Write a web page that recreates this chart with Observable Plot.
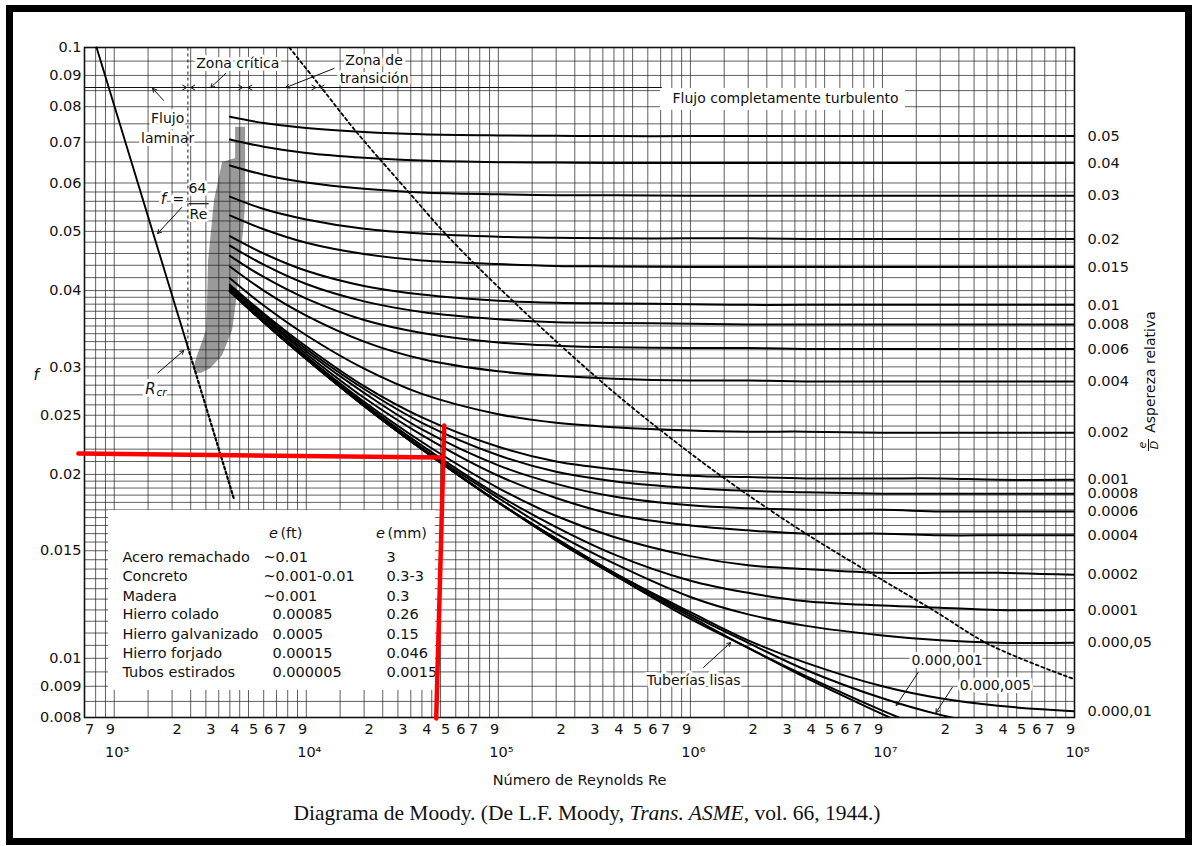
<!DOCTYPE html>
<html><head><meta charset="utf-8">
<script src="https://cdn.jsdelivr.net/npm/d3@7"></script>
<script src="https://cdn.jsdelivr.net/npm/@observablehq/plot@0.6"></script>
<style>
html,body{margin:0;padding:0;background:#fff;}
#wrap{position:relative;width:1197px;height:846px;overflow:hidden;background:#fff;}
#chart{position:absolute;left:0;top:0;}
#over{position:absolute;left:0;top:0;pointer-events:none;}
#caption{position:absolute;left:0;top:801px;width:1174px;text-align:center;font:21.5px "Liberation Serif","Times New Roman",serif;color:#111;white-space:nowrap;}
#frame{position:absolute;left:6px;top:5px;width:1186px;height:840px;border:7px solid #000;box-sizing:border-box;}
</style></head>
<body>
<div id="wrap">
  <div id="chart"></div>
  <svg id="over" width="1197" height="846" font-family="'DejaVu Sans', sans-serif" fill="#111">
    <g transform="translate(1150,372) rotate(-90)"><text text-anchor="middle" y="5" font-size="14">Aspereza relativa</text></g>
    <g transform="translate(1148,445) rotate(-90)" font-size="11" font-style="italic">
      <text text-anchor="middle" y="-2">e</text>
      <line x1="-6" x2="6" y1="0.5" y2="0.5" stroke="#111" stroke-width="1"/>
      <text text-anchor="middle" y="10">D</text>
    </g>
  </svg>
  <div id="caption">Diagrama de Moody. (De L.F. Moody, <i>Trans. ASME</i>, vol. 66, 1944.)</div>
  <div id="frame"></div>
</div>
<script>
// ---------- data ----------
const reSamples = [4000, 6000, 1e4, 2e4, 4e4, 1e5, 2e5, 4e5, 1e6, 2e6, 4e6, 1e7, 2e7, 4e7, 1e8];
const roughnessLabels = ["0.05","0.04","0.03","0.02","0.015","0.01","0.008","0.006","0.004","0.002","0.001","0.0008","0.0006","0.0004","0.0002","0.0001","0.000,05","0.000,01",null,null,null];

const f_05     = [0.0770,0.0752,0.0738,0.0727,0.0721,0.0718,0.0717,0.0716,0.0716,0.0716,0.0716,0.0716,0.0716,0.0716,0.0716];
const f_04     = [0.0707,0.0688,0.0672,0.0660,0.0653,0.0649,0.0648,0.0647,0.0647,0.0647,0.0647,0.0647,0.0647,0.0647,0.0647];
const f_03     = [0.0641,0.0619,0.0601,0.0587,0.0579,0.0575,0.0573,0.0573,0.0572,0.0572,0.0572,0.0572,0.0572,0.0572,0.0572];
const f_02     = [0.0570,0.0544,0.0523,0.0505,0.0496,0.0490,0.0488,0.0487,0.0487,0.0487,0.0486,0.0486,0.0486,0.0486,0.0486];
const f_015    = [0.0531,0.0504,0.0479,0.0459,0.0448,0.0442,0.0439,0.0438,0.0437,0.0437,0.0437,0.0437,0.0437,0.0437,0.0437];
const f_01     = [0.0491,0.0460,0.0431,0.0407,0.0394,0.0385,0.0382,0.0381,0.0380,0.0379,0.0379,0.0379,0.0379,0.0379,0.0379];
const f_008    = [0.0474,0.0441,0.0410,0.0384,0.0369,0.0359,0.0355,0.0354,0.0353,0.0352,0.0352,0.0352,0.0352,0.0352,0.0352];
const f_006    = [0.0456,0.0421,0.0388,0.0358,0.0341,0.0329,0.0325,0.0323,0.0322,0.0322,0.0321,0.0321,0.0321,0.0321,0.0321];
const f_004    = [0.0438,0.0400,0.0364,0.0330,0.0309,0.0295,0.0290,0.0287,0.0285,0.0285,0.0284,0.0284,0.0284,0.0284,0.0284];
const f_002    = [0.0419,0.0378,0.0338,0.0298,0.0271,0.0251,0.0243,0.0239,0.0236,0.0235,0.0235,0.0234,0.0234,0.0234,0.0234];
const f_001    = [0.0409,0.0367,0.0324,0.0279,0.0248,0.0222,0.0210,0.0204,0.0199,0.0198,0.0197,0.0197,0.0197,0.0196,0.0196];
const f_0008   = [0.0407,0.0365,0.0321,0.0276,0.0243,0.0215,0.0202,0.0195,0.0190,0.0188,0.0187,0.0186,0.0186,0.0186,0.0186];
const f_0006   = [0.0405,0.0362,0.0318,0.0272,0.0237,0.0207,0.0193,0.0184,0.0178,0.0176,0.0175,0.0175,0.0174,0.0174,0.0174];
const f_0004   = [0.0403,0.0360,0.0315,0.0267,0.0232,0.0199,0.0183,0.0172,0.0165,0.0162,0.0160,0.0160,0.0159,0.0159,0.0159];
const f_0002   = [0.0401,0.0357,0.0312,0.0263,0.0226,0.0190,0.0171,0.0158,0.0147,0.0142,0.0140,0.0138,0.0138,0.0138,0.0137];
const f_0001   = [0.0400,0.0356,0.0310,0.0261,0.0223,0.0185,0.0164,0.0148,0.0134,0.0128,0.0124,0.0122,0.0121,0.0120,0.0120];
const f_00005  = [0.0400,0.0356,0.0310,0.0260,0.0221,0.0183,0.0160,0.0143,0.0126,0.0118,0.0113,0.0109,0.0107,0.0106,0.0106];
const f_00001  = [0.0399,0.0355,0.0309,0.0259,0.0220,0.0180,0.0157,0.0138,0.0119,0.0107,0.00983,0.00900,0.00860,0.00836,0.00819];
const f_000005 = [0.0399,0.0355,0.0309,0.0259,0.0220,0.0180,0.0157,0.0138,0.0118,0.0106,0.00957,0.00860,0.00808,0.00774,0.00747];
const f_000001 = [0.0399,0.0355,0.0309,0.0259,0.0220,0.0180,0.0156,0.0137,0.0117,0.0104,0.00935,0.00821,0.00752,0.00697,0.00643];
const f_smooth = [0.0399,0.0355,0.0309,0.0259,0.0220,0.0180,0.0156,0.0137,0.0116,0.0104,0.00929,0.00810,0.00734,0.00669,0.00594];

// boundary of fully turbulent zone (dashed)
const boundaryRe = [8160, 11970, 18000, 33600, 56200, 1.25e5, 3.43e5, 7.27e5, 1.54e6, 4.12e6, 1.83e7, 3.67e7, 1e8];
const boundaryF  = [0.1, 0.086, 0.0731, 0.0583, 0.0486, 0.0379, 0.0284, 0.0234, 0.0196, 0.0159, 0.0120, 0.0105, 0.00924];

// laminar line f = 64/Re and its dotted extension
const laminarRe = [809, 2418];
const laminarF  = [0.1, 0.0323];
const laminarExtRe = [2418, 4193];
const laminarExtF  = [0.0323, 0.01827];

// critical-zone shaded band: f, left Re, right Re
const bandF  = [0.0740, 0.0658, 0.0648, 0.0562, 0.0521, 0.0448, 0.0385, 0.0344, 0.0313, 0.0298, 0.0293];
const bandLo = [4285, 4285, 3666, 3330, 3252, 3099, 3063, 3026, 2717, 2589, 2650];
const bandHi = [4830, 4830, 4830, 4830, 4773, 4549, 4336, 4133, 3666, 3173, 2850];

// red overlay lines
const redH = [[651, 0.02164], [50410, 0.02132]];
const redV = [[52260, 0.02405], [47470, 0.00797]];

// tick labels
const yTicks = [0.1, 0.09, 0.08, 0.07, 0.06, 0.05, 0.04, 0.03, 0.025, 0.02, 0.015, 0.01, 0.009, 0.008];
const xDigitLabels = ["2","3","4","5","6","7","9"];
const xDigitFirst = ["7","9"];
const xPowerLabels = ["10³","10⁴","10⁵","10⁶","10⁷","10⁸"];

// material table
const materials = ["Acero remachado","Concreto","Madera","Hierro colado","Hierro galvanizado","Hierro forjado","Tubos estirados"];
const eFt = ["~0.01","~0.001-0.01","~0.001","0.00085","0.0005","0.00015","0.000005"];
const eMm = ["3","0.3-3","0.3","0.26","0.15","0.046","0.0015"];

// ---------- assembly ----------
const fTables = [f_05,f_04,f_03,f_02,f_015,f_01,f_008,f_006,f_004,f_002,f_001,f_0008,f_0006,f_0004,f_0002,f_0001,f_00005,f_00001,f_000005,f_000001,f_smooth];
const curveRows = fTables.flatMap((arr, k) => arr.map((f, j) => ({Re: reSamples[j], f, k})));
const rightRows = roughnessLabels.map((lab, k) => lab ? {lab, f: fTables[k][fTables[k].length - 1]} : null).filter(Boolean);
const bandRows = bandF.map((f, i) => ({f, lo: bandLo[i], hi: bandHi[i]}));
const boundaryRows = boundaryRe.map((r, i) => [r, boundaryF[i]]);

const gridMult = [1,1.5,2,2.5,3,3.5,4,4.5,5,6,7,8,9];
const xGrid = [];
for (let e = 2; e <= 7; e++) for (const m of gridMult) { const v = m * 10 ** e; if (v > 700 && v < 1e8) xGrid.push(v); }
const yGrid = [
  ...d3.range(17, 40).map(i => i * 0.0005),
  ...d3.range(20, 40).map(i => i / 1000),
  ...d3.range(20, 30).map(i => i * 0.002),
  ...d3.range(12, 20).map(i => i * 0.005)
];

const xDigitRows = [
  ...xDigitFirst.map((t, i) => ({v: [700, 900][i], t})),
  ...d3.range(3, 8).flatMap(e => xDigitLabels.map(t => ({v: +t * 10 ** e, t})))
];
const xPowerRows = xPowerLabels.map((t, i) => ({v: 10 ** (i + 3), t}));

// annotation anchors (data space)
const annoText = [
  {t: "Zona crítica", Re: 4398, f: 0.0942},
  {t: "Zona de", Re: 22540, f: 0.0952},
  {t: "transición", Re: 22540, f: 0.0890},
  {t: "Flujo", Re: 1897, f: 0.0765},
  {t: "laminar", Re: 1897, f: 0.0710},
  {t: "Flujo completamente turbulento", Re: 3.13e6, f: 0.0825},
  {t: "Tuberías lisas", Re: 1.04e6, f: 0.0092},
  {t: "0.000,001", Re: 2.17e7, f: 0.00992},
  {t: "0.000,005", Re: 3.87e7, f: 0.00903},
  {t: "=", Re: 2159, f: 0.0564},
  {t: "64", Re: 2712, f: 0.0588},
  {t: "Re", Re: 2745, f: 0.0533}
];
const annoItalic = [{t: "f", Re: 1804, f: 0.0564}, {t: "R", Re: 1543, f: 0.0276}];
const leaders = [
  {x1: 3808, y1: 0.0907, x2: 3180, y2: 0.0860},
  {x1: 13940, y1: 0.0924, x2: 7831, y2: 0.0860},
  {x1: 1808, y1: 0.0819, x2: 1584, y2: 0.0857},
  {x1: 2244, y1: 0.0547, x2: 1683, y2: 0.0496},
  {x1: 1683, y1: 0.0293, x2: 2299, y2: 0.0319},
  {x1: 1.17e6, y1: 0.00966, x2: 1.62e6, y2: 0.01061},
  {x1: 1.535e7, y1: 0.00948, x2: 1.18e7, y2: 0.00837},
  {x1: 2.31e7, y1: 0.00896, x2: 1.9e7, y2: 0.00815}
];
const zoneArrows = [
  {x1: 1967, x2: 2383}, {x1: 2995, x2: 2500},
  {x1: 3949, x2: 4670}, {x1: 5940, x2: 4961},
  {x1: 9376, x2: 11230}, {x1: 14110, x2: 11780}
].map(d => ({...d, y1: 0.086, y2: 0.086}));
const zoneLine = [{x1: 700, x2: 7.09e5, y1: 0.086, y2: 0.086}];
const critLine = [{x1: 2418, x2: 2418, y1: 0.1, y2: 0.0323}];
const fracBar = [{x1: 2440, x2: 3100, y1: 0.0555, y2: 0.0555}];
const whiteBoxes = [
  {x1: 933, x2: 47000, y1: 0.00886, y2: 0.01746},
  {x1: 6.98e5, x2: 1.317e7, y1: 0.0789, y2: 0.0857}
];
const tableRowF = [0.01462, 0.01361, 0.01262, 0.01179, 0.01094, 0.01018, 0.00948];
const tableRows = materials.map((m, i) => ({m, ft: eFt[i], mm: eMm[i], f: tableRowF[i], c2: i < 3 ? 5983 : 6662}));

const ink = "#111";
const halo = {stroke: "white", strokeWidth: 6, paintOrder: "stroke", fill: ink};

const chart = Plot.plot({
  width: 1197, height: 846,
  marginLeft: 84, marginRight: 123, marginTop: 47, marginBottom: 129,
  x: {type: "log", domain: [700, 1e8], axis: null},
  y: {type: "log", domain: [0.008, 0.1], axis: null},
  style: {fontFamily: "'DejaVu Sans', sans-serif", fontSize: "14px", color: ink, background: "transparent", overflow: "visible"},
  marks: [
    Plot.areaX(bandRows, {y: "f", x1: "lo", x2: "hi", fill: "#9a9a9a", curve: "linear"}),
    Plot.ruleX(xGrid, {stroke: "#222", strokeWidth: 0.85, strokeOpacity: 0.85}),
    Plot.ruleY(yGrid, {stroke: "#222", strokeWidth: 0.85, strokeOpacity: 0.85}),
    Plot.rect(whiteBoxes, {x1: "x1", x2: "x2", y1: "y1", y2: "y2", fill: "white"}),
    Plot.frame({stroke: ink, strokeWidth: 1.6}),
    // annotation texts with white halo
    Plot.text(annoText, {x: "Re", y: "f", text: "t", fontSize: 14, ...halo}),
    Plot.text(annoItalic, {x: "Re", y: "f", text: "t", fontSize: 15, fontStyle: "italic", ...halo}),
    Plot.text([{t: "cr", Re: 1761, f: 0.0272}], {x: "Re", y: "f", text: "t", fontSize: 10.5, fontStyle: "italic", ...halo}),
    // curves
    Plot.line(curveRows, {x: "Re", y: "f", z: "k", stroke: "#000", strokeWidth: 2, curve: "catmull-rom", clip: true}),
    Plot.line(boundaryRows, {stroke: "#000", strokeWidth: 1.8, strokeDasharray: "3,3", curve: "catmull-rom", clip: true}),
    Plot.line(laminarRe.map((r, i) => [r, laminarF[i]]), {stroke: "#000", strokeWidth: 1.9}),
    Plot.line(laminarExtRe.map((r, i) => [r, laminarExtF[i]]), {stroke: "#000", strokeWidth: 2.2, strokeDasharray: "2.5,2.5"}),
    Plot.link(critLine, {x1: "x1", x2: "x2", y1: "y1", y2: "y2", stroke: ink, strokeWidth: 1, strokeDasharray: "3,3"}),
    Plot.link(zoneLine, {x1: "x1", x2: "x2", y1: "y1", y2: "y2", stroke: ink, strokeWidth: 1.1}),
    Plot.link(fracBar, {x1: "x1", x2: "x2", y1: "y1", y2: "y2", stroke: ink, strokeWidth: 1.2}),
    Plot.arrow(zoneArrows, {x1: "x1", y1: "y1", x2: "x2", y2: "y2", stroke: ink, strokeWidth: 1, headLength: 7}),
    Plot.arrow(leaders, {x1: "x1", y1: "y1", x2: "x2", y2: "y2", stroke: ink, strokeWidth: 1, headLength: 6}),
    // table
    Plot.text(tableRows, {x: () => 1103, y: "f", text: "m", textAnchor: "start", fontSize: 14.5, fill: ink}),
    Plot.text(tableRows, {x: "c2", y: "f", text: "ft", textAnchor: "start", fontSize: 14.5, fill: ink}),
    Plot.text(tableRows, {x: () => 26140, y: "f", text: "mm", textAnchor: "start", fontSize: 14.5, fill: ink}),
    Plot.text([{t: "e", Re: 6745}, {t: "e", Re: 24330}], {x: "Re", y: () => 0.01601, text: "t", fontSize: 14.5, fontStyle: "italic", fill: ink}),
    Plot.text([{t: "(ft)", Re: 7334}, {t: "(mm)", Re: 26460}], {x: "Re", y: () => 0.01601, text: "t", textAnchor: "start", fontSize: 14.5, fill: ink}),
    // axes
    Plot.text(yTicks, {x: () => 700, y: d => d, text: d => String(d), textAnchor: "end", dx: -3, fontSize: 14.5, fill: ink}),
    Plot.text(rightRows, {x: () => 1e8, y: "f", text: "lab", textAnchor: "start", dx: 13, fontSize: 14.5, fill: ink}),
    Plot.text(xDigitRows, {x: "v", y: () => 0.008, text: "t", dx: 5, dy: 12, fontSize: 14.5, fill: ink}),
    Plot.text(xPowerRows, {x: "v", y: () => 0.008, text: "t", dx: 3, dy: 35, fontSize: 14.5, fill: ink}),
    Plot.text(["Número de Reynolds Re"], {frameAnchor: "bottom", text: d => d, dy: 67, fontSize: 14.5, fill: ink}),
    Plot.text(["f"], {frameAnchor: "left", text: d => d, dx: -51, dy: -7, fontSize: 15, fontStyle: "italic", fill: ink}),
    // red overlay
    Plot.line(redH, {stroke: "#ff0000", strokeWidth: 4.5}),
    Plot.line(redV, {stroke: "#ff0000", strokeWidth: 4.5})
  ]
});
document.getElementById("chart").appendChild(chart);
</script>
</body></html>
